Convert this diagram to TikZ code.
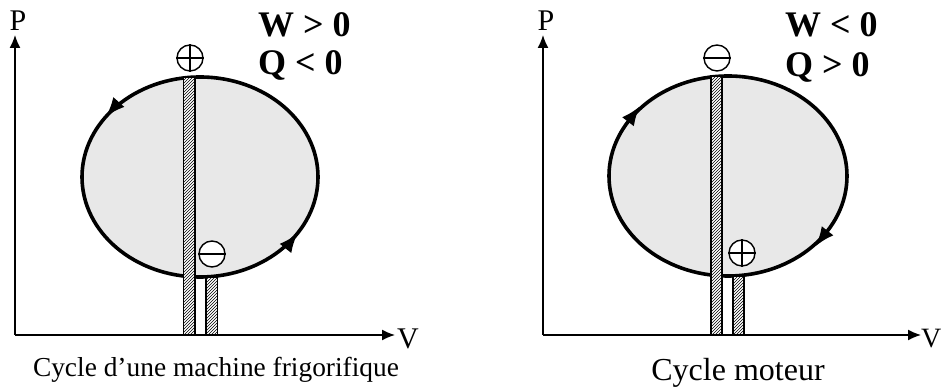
\documentclass[tikz,border=0pt]{standalone}
\usepackage{fontspec}
\setmainfont{Liberation Serif}
\usetikzlibrary{positioning,arrows.meta,patterns,decorations.markings}

\begin{document}
\begin{tikzpicture}[x=1pt, y=1pt,
  axis/.style={-{Latex[length=13pt,width=11pt]}, line width=1.4pt},
  cyc/.style={draw, line width=3.6pt, fill=black!9},
  bar/.style={draw, line width=1.4pt, fill=white, postaction={pattern=north east lines}},
  sign/.style={circle, draw, line width=1.4pt, fill=white, minimum size=26pt, inner sep=0pt},
  lbl/.style={font=\fontsize{30}{32}\selectfont, inner sep=0pt},
  res/.style={font=\bfseries\fontsize{36}{38}\selectfont, inner sep=0pt, anchor=base west},
  legend/.style={inner sep=0pt, anchor=base},
  cyctip/.tip={Latex[length=20pt,width=15pt]}
]
\useasboundingbox (0,0) rectangle (943,387);

% machine frigorifique
\coordinate (O1) at (15,52);
\coordinate (P1) at (15,352);
\coordinate (V1) at (395,52);
\draw[axis] (O1) -- (P1);
\draw[axis] (O1) -- (V1);
\node[lbl, above=4pt of P1, xshift=3pt] (Plab1) {P};
\node[lbl, anchor=west, xshift=2pt, yshift=-4pt] (Vlab1) at (V1) {V};
\draw[cyc, postaction={decorate, decoration={markings,
    mark=at position 0.404 with {\arrow{cyctip}},
    mark=at position 0.912 with {\arrow{cyctip}}}}]
  (200,210) ellipse [x radius=118, y radius=100];
\draw[bar] (183.5,52) rectangle (195,310);
\draw[bar] (206,52) rectangle (217.5,110);
\node[sign] (plus1) at (190,329) {};
\draw[line width=1.4pt] (plus1.north) -- (plus1.south) (plus1.west) -- (plus1.east);
\node[sign] (minus1) at (212,133) {};
\draw[line width=1.4pt] (minus1.west) -- (minus1.east);
\node[res] (W1) at (258,350) {W > 0};
\node[res] (Q1) at (258,312) {Q < 0};
\node[legend, font=\fontsize{27.4}{30}\selectfont] (cap1) at (216,10) {Cycle d’une machine frigorifique};

% cycle moteur
\coordinate (O2) at (543,52);
\coordinate (P2) at (543,352);
\coordinate (V2) at (921,52);
\draw[axis] (O2) -- (P2);
\draw[axis] (O2) -- (V2);
\node[lbl, above=4pt of P2, xshift=3pt] (Plab2) {P};
\node[lbl, anchor=west, xshift=0pt, yshift=-4pt, font=\fontsize{28}{30}\selectfont] (Vlab2) at (V2) {V};
\draw[cyc, postaction={decorate, decoration={markings,
    mark=at position 0.415 with {\arrow{cyctip[reversed]}},
    mark=at position 0.914 with {\arrow{cyctip[reversed]}}}}]
  (728,211) ellipse [x radius=119, y radius=100];
\draw[bar] (711,52) rectangle (722,311);
\draw[bar] (733,52) rectangle (744,111);
\node[sign] (minus2) at (717,329) {};
\draw[line width=1.4pt] (minus2.west) -- (minus2.east);
\node[sign] (plus2) at (742,134) {};
\draw[line width=1.4pt] (plus2.north) -- (plus2.south) (plus2.west) -- (plus2.east);
\node[res] (W2) at (785,350) {W < 0};
\node[res] (Q2) at (785,310) {Q > 0};
\node[legend, font=\fontsize{32}{34}\selectfont] (cap2) at (738,6) {Cycle moteur};
\end{tikzpicture}
\end{document}
